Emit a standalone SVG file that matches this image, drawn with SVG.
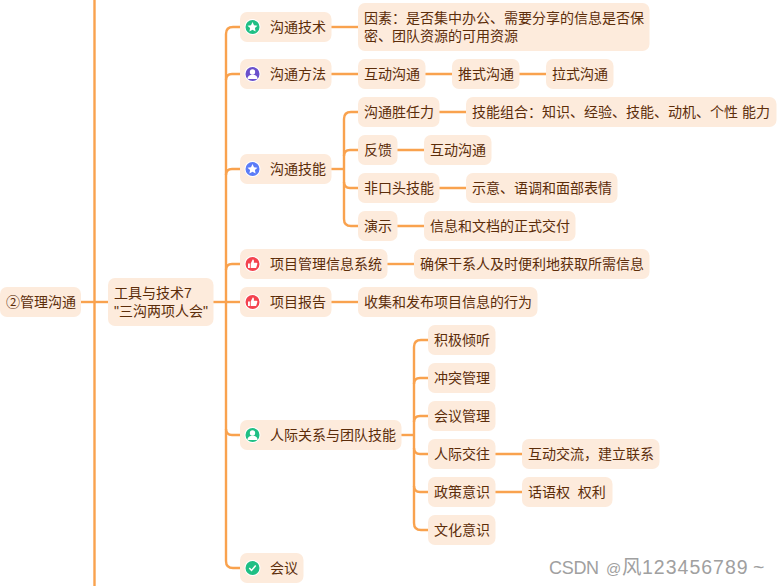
<svg xmlns="http://www.w3.org/2000/svg" width="780" height="586" viewBox="0 0 780 586">
<style>
.n{fill:#fdebdc}
text{font-family:"Liberation Sans","Noto Sans CJK SC","Microsoft YaHei",sans-serif;font-size:14px;fill:#5c2d0a;white-space:pre}
.c path{fill:none;stroke:#f9a24e;stroke-width:2.4}
text.wm{font-size:19.5px;fill:#a0a0a0}
.wm .a{font-size:18px;letter-spacing:-.3px}
.wm .b{font-size:15px}
.wm .d{letter-spacing:1px}
</style>
<defs>
<path id="star" fill="#fff" d="M0-5 1.5-1.7 5-1.3 2.4 1 3.1 4.4 0 2.7-3.1 4.4-2.4 1-5-1.3-1.5-1.7Z"/>
<g id="person" fill="#fff"><circle cy="-2" r="2.7"/><path d="M-5 5C-5 2-3 1.2-1.2 .8H1.2C3 1.2 5 2 5 5Z"/></g>
<path id="thumb" fill="#fff" d="M-4.5-.5H-2.6V4H-4.5ZM-1.8-.5 .2-4.6C1.3-4.6 1.7-3.600 1.3-1.2H4C4.8-1.2 5-.6 4.8 0L3.8 3.4C3.6 4 3.2 4 2.8 4H-1.8Z"/>
<path id="check" fill="none" stroke="#fff" stroke-width="1.5" d="M-3.2 0-1 2.4 3.2-2.4"/>
<circle id="ring" r="8" fill="#fff"/>
</defs>
<g class="c">
<path d="M94.500 0V586"/>
<path d="M81 302H108"/>
<path d="M213 302H240"/>
<path d="M240 27H233Q226 27 226 34V561Q226 568 233 568H240"/>
<path d="M240 74H232Q226 74 226 80"/>
<path d="M240 169H232Q226 169 226 175"/>
<path d="M240 264H232Q226 264 226 270"/>
<path d="M240 435H232Q226 435 226 429"/>
<path d="M331 27H358"/>
<path d="M331 74H358M425 74H452M519 74H546"/>
<path d="M331 169H344"/>
<path d="M358 112H351Q344 112 344 119V219Q344 226 351 226H358"/>
<path d="M358 150H350Q344 150 344 156"/>
<path d="M358 188H350Q344 188 344 182"/>
<path d="M439 112H466M397 150H424M439 188H466M397 226H424"/>
<path d="M387 264H414"/>
<path d="M331 302H358"/>
<path d="M401 435H414"/>
<path d="M428 340H421Q414 340 414 347V523Q414 530 421 530H428"/>
<path d="M428 378H420Q414 378 414 384"/>
<path d="M428 416H420Q414 416 414 422"/>
<path d="M428 454H420Q414 454 414 448"/>
<path d="M428 492H420Q414 492 414 486"/>
<path d="M495 454H522M495 492H522"/>
</g>
<g id="n-root"><rect class="n" x="0" y="287" width="81" height="30" rx="7"/><text x="6" y="307">②管理沟通</text></g>
<g id="n-tools"><rect class="n" x="108" y="278" width="105.500" height="48" rx="7"/><text x="114" y="298">工具与技术7</text><text x="114" y="316">"三沟两项人会"</text></g>
<g id="n-tech"><rect class="n" x="240" y="12" width="91.500" height="30" rx="7"/><use href="#ring" x="252.500" y="27"/><circle cx="252.500" cy="27" r="7" fill="#1fbf84"/><use href="#star" x="252.500" y="27"/><text x="270" y="32">沟通技术</text></g>
<g id="n-factor"><rect class="n" x="358" y="3" width="291.500" height="48" rx="7"/><text x="364" y="23">因素：是否集中办公、需要分享的信息是否保</text><text x="364" y="41">密、团队资源的可用资源</text></g>
<g id="n-method"><rect class="n" x="240" y="59" width="91.500" height="30" rx="7"/><use href="#ring" x="252.500" y="74"/><circle cx="252.500" cy="74" r="7" fill="#6a50cc"/><use href="#person" x="252.500" y="74"/><text x="270" y="79">沟通方法</text></g>
<g id="n-interactive"><rect class="n" x="358" y="59" width="67.500" height="30" rx="7"/><text x="364" y="79">互动沟通</text></g>
<g id="n-push"><rect class="n" x="452" y="59" width="67.500" height="30" rx="7"/><text x="458" y="79">推式沟通</text></g>
<g id="n-pull"><rect class="n" x="546" y="59" width="67.500" height="30" rx="7"/><text x="552" y="79">拉式沟通</text></g>
<g id="n-skill"><rect class="n" x="240" y="154" width="91.500" height="30" rx="7"/><use href="#ring" x="252.500" y="169"/><circle cx="252.500" cy="169" r="7" fill="#5b7cf7"/><use href="#star" x="252.500" y="169"/><text x="270" y="174">沟通技能</text></g>
<g id="n-compet"><rect class="n" x="358" y="97" width="81.500" height="30" rx="7"/><text x="364" y="117">沟通胜任力</text></g>
<g id="n-combo"><rect class="n" x="466" y="97" width="310.500" height="30" rx="7"/><text x="472" y="117">技能组合：知识、经验、技能、动机、个性 能力</text></g>
<g id="n-feedback"><rect class="n" x="358" y="135" width="39.500" height="30" rx="7"/><text x="364" y="155">反馈</text></g>
<g id="n-inter2"><rect class="n" x="424" y="135" width="67.500" height="30" rx="7"/><text x="430" y="155">互动沟通</text></g>
<g id="n-nonverbal"><rect class="n" x="358" y="173" width="81.500" height="30" rx="7"/><text x="364" y="193">非口头技能</text></g>
<g id="n-gesture"><rect class="n" x="466" y="173" width="151.500" height="30" rx="7"/><text x="472" y="193">示意、语调和面部表情</text></g>
<g id="n-present"><rect class="n" x="358" y="211" width="39.500" height="30" rx="7"/><text x="364" y="231">演示</text></g>
<g id="n-delivery"><rect class="n" x="424" y="211" width="151.500" height="30" rx="7"/><text x="430" y="231">信息和文档的正式交付</text></g>
<g id="n-pmis"><rect class="n" x="240" y="249" width="147.500" height="30" rx="7"/><use href="#ring" x="252.500" y="264"/><circle cx="252.500" cy="264" r="7" fill="#f4434f"/><use href="#thumb" x="252.500" y="264"/><text x="270" y="269">项目管理信息系统</text></g>
<g id="n-ensure"><rect class="n" x="414" y="249" width="235.500" height="30" rx="7"/><text x="420" y="269">确保干系人及时便利地获取所需信息</text></g>
<g id="n-report"><rect class="n" x="240" y="287" width="91.500" height="30" rx="7"/><use href="#ring" x="252.500" y="302"/><circle cx="252.500" cy="302" r="7" fill="#f4434f"/><use href="#thumb" x="252.500" y="302"/><text x="270" y="307">项目报告</text></g>
<g id="n-collect"><rect class="n" x="358" y="287" width="179.500" height="30" rx="7"/><text x="364" y="307">收集和发布项目信息的行为</text></g>
<g id="n-people"><rect class="n" x="240" y="420" width="161.500" height="30" rx="7"/><use href="#ring" x="252.500" y="435"/><circle cx="252.500" cy="435" r="7" fill="#1fbf84"/><use href="#person" x="252.500" y="435"/><text x="270" y="440">人际关系与团队技能</text></g>
<g id="n-listen"><rect class="n" x="428" y="325" width="67.500" height="30" rx="7"/><text x="434" y="345">积极倾听</text></g>
<g id="n-conflict"><rect class="n" x="428" y="363" width="67.500" height="30" rx="7"/><text x="434" y="383">冲突管理</text></g>
<g id="n-meetmgmt"><rect class="n" x="428" y="401" width="67.500" height="30" rx="7"/><text x="434" y="421">会议管理</text></g>
<g id="n-social"><rect class="n" x="428" y="439" width="67.500" height="30" rx="7"/><text x="434" y="459">人际交往</text></g>
<g id="n-exchange"><rect class="n" x="522" y="439" width="137.500" height="30" rx="7"/><text x="528" y="459">互动交流，建立联系</text></g>
<g id="n-politics"><rect class="n" x="428" y="477" width="67.500" height="30" rx="7"/><text x="434" y="497">政策意识</text></g>
<g id="n-power"><rect class="n" x="522" y="477" width="90.500" height="30" rx="7"/><text x="528" y="497">话语权  权利</text></g>
<g id="n-culture"><rect class="n" x="428" y="515" width="67.500" height="30" rx="7"/><text x="434" y="535">文化意识</text></g>
<g id="n-meeting"><rect class="n" x="240" y="553" width="63.500" height="30" rx="7"/><use href="#ring" x="252.500" y="568"/><circle cx="252.500" cy="568" r="7" fill="#1fbf84"/><use href="#check" x="252.500" y="568"/><text x="270" y="573">会议</text></g>
<text class="wm" x="549" y="574"><tspan class="a">CSDN</tspan> <tspan class="b" x="606">@</tspan><tspan x="622">风</tspan><tspan class="d" x="642">123456789</tspan><tspan x="753">~</tspan></text>
</svg>
